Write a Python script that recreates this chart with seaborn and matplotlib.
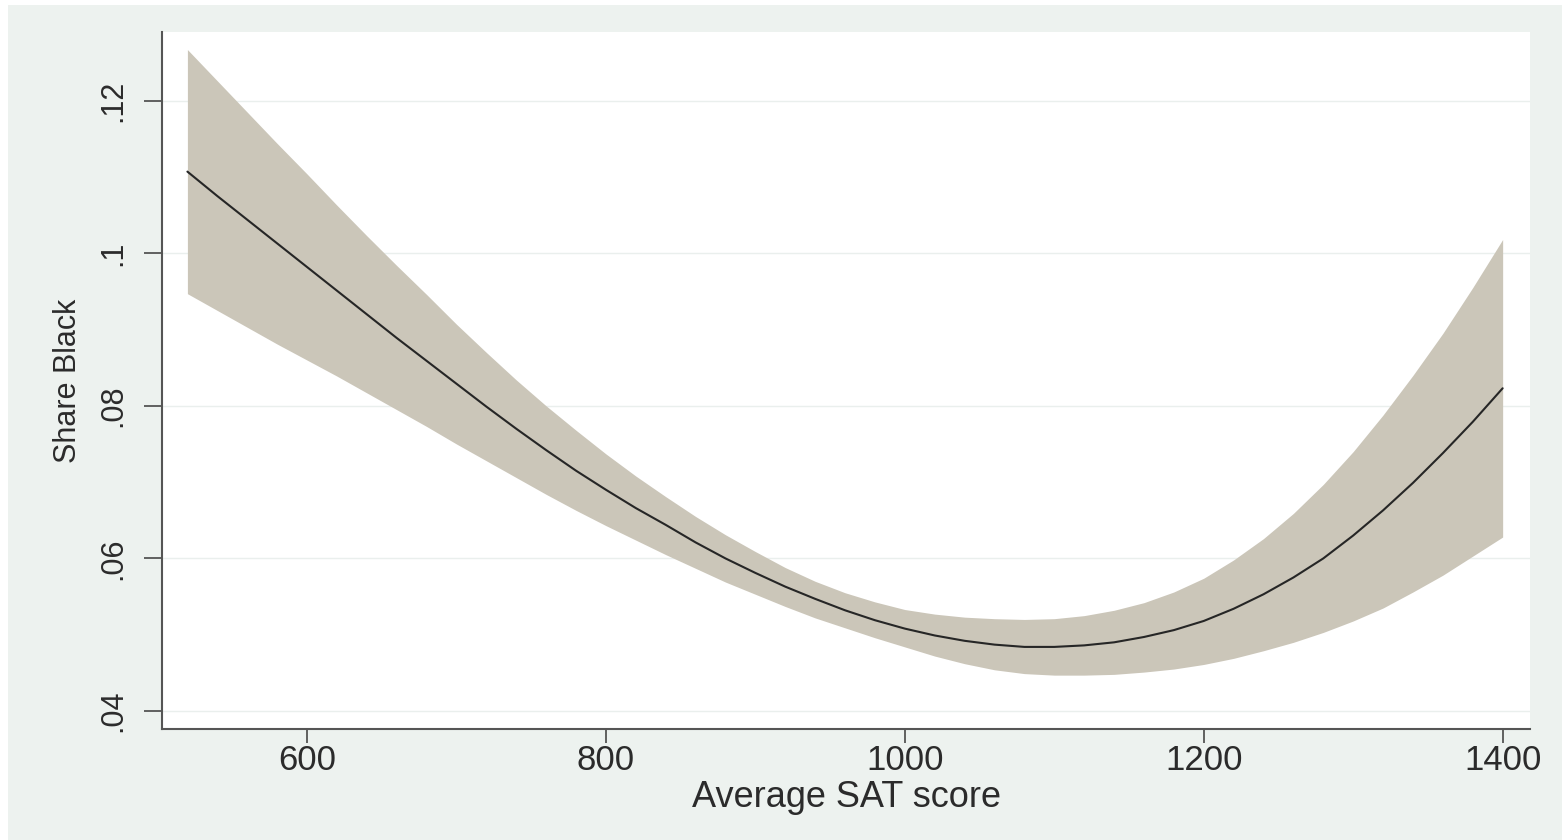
import numpy as np
import pandas as pd
import matplotlib
matplotlib.use("Agg")
import matplotlib.pyplot as plt
from matplotlib.patches import Rectangle
import seaborn as sns

# Average SAT score grid (steps of 20) and fitted share of Black students with 95% band
sat = [520, 540, 560, 580, 600, 620, 640, 660, 680, 700, 720, 740, 760, 780,
       800, 820, 840, 860, 880, 900, 920, 940, 960, 980, 1000, 1020, 1040,
       1060, 1080, 1100, 1120, 1140, 1160, 1180, 1200, 1220, 1240, 1260,
       1280, 1300, 1320, 1340, 1360, 1380, 1400]
fit = [0.1107, 0.1075, 0.1044, 0.1013, 0.0982, 0.0951, 0.0920, 0.0889,
       0.0859, 0.0829, 0.0799, 0.0770, 0.0742, 0.0715, 0.0690, 0.0666,
       0.0644, 0.0621, 0.0600, 0.0581, 0.0563, 0.0547, 0.0532, 0.0519,
       0.0508, 0.0499, 0.0492, 0.0487, 0.0484, 0.0484, 0.0486, 0.0490,
       0.0497, 0.0506, 0.0518, 0.0534, 0.0553, 0.0575, 0.0600, 0.0630,
       0.0663, 0.0699, 0.0738, 0.0779, 0.0823]
upper = [0.1267, 0.1226, 0.1185, 0.1144, 0.1104, 0.1063, 0.1023, 0.0984,
         0.0946, 0.0907, 0.0870, 0.0834, 0.0800, 0.0768, 0.0737, 0.0708,
         0.0681, 0.0655, 0.0631, 0.0609, 0.0588, 0.0570, 0.0555, 0.0543,
         0.0533, 0.0527, 0.0523, 0.0521, 0.0520, 0.0521, 0.0525, 0.0532,
         0.0542, 0.0556, 0.0574, 0.0598, 0.0626, 0.0659, 0.0697, 0.0740,
         0.0788, 0.0840, 0.0895, 0.0955, 0.1018]
lower = [0.0947, 0.0925, 0.0903, 0.0881, 0.0860, 0.0839, 0.0817, 0.0795,
         0.0773, 0.0750, 0.0728, 0.0706, 0.0684, 0.0663, 0.0643, 0.0624,
         0.0605, 0.0587, 0.0569, 0.0553, 0.0537, 0.0522, 0.0509, 0.0496,
         0.0484, 0.0472, 0.0462, 0.0454, 0.0449, 0.0447, 0.0447, 0.0448,
         0.0451, 0.0455, 0.0461, 0.0469, 0.0479, 0.0490, 0.0503, 0.0518,
         0.0535, 0.0556, 0.0578, 0.0603, 0.0628]

x_ticks = [600, 800, 1000, 1200, 1400]
y_ticks = [0.04, 0.06, 0.08, 0.10, 0.12]
y_tick_labels = [".04", ".06", ".08", ".1", ".12"]

df = pd.DataFrame({"sat": sat, "fit": fit, "lo": lower, "hi": upper})

sns.set_theme(style="white")
plt.rcParams["font.family"] = ["Liberation Sans", "DejaVu Sans"]

BG = "#EDF2EF"
TEXT = "#2b2b2b"
AXIS = "#555555"

fig = plt.figure(figsize=(15.62, 8.40), dpi=100, facecolor="white")
backdrop = Rectangle((8 / 1562, 0), 1, 835 / 840, transform=fig.transFigure,
                     facecolor=BG, edgecolor="none", zorder=-10)
fig.add_artist(backdrop)

ax = fig.add_axes([162 / 1562, (840 - 729) / 840, (1530 - 162) / 1562, (729 - 32) / 840])
ax.set_zorder(1)
ax.set_facecolor("white")

ax.fill_between(df["sat"], df["lo"], df["hi"], color="#CBC6B9", linewidth=0, zorder=2)
sns.lineplot(data=df, x="sat", y="fit", ax=ax, color="#262626", linewidth=1.5, zorder=3)

ax.set_xlim(503, 1418.3)
ax.set_ylim(0.03764, 0.129)

ax.set_xticks(x_ticks)
ax.set_xticklabels([str(v) for v in x_ticks])
ax.set_yticks(y_ticks)
ax.set_yticklabels(y_tick_labels, rotation=90, va="center")

ax.grid(axis="y", color="#EAEFED", linewidth=1.0, zorder=1)
ax.grid(axis="x", visible=False)
ax.set_axisbelow(True)

for side in ["top", "right"]:
    ax.spines[side].set_visible(False)
for side in ["left", "bottom"]:
    ax.spines[side].set_color(AXIS)
    ax.spines[side].set_linewidth(1.5)

ax.tick_params(axis="x", direction="out", length=10, width=1.3, color=AXIS,
               labelsize=25, labelcolor=TEXT, pad=1, bottom=True)
ax.tick_params(axis="y", direction="out", length=13, width=1.3, color=AXIS,
               labelsize=22, labelcolor=TEXT, pad=11, left=True)

ax.set_xlabel("Average SAT score", fontsize=26, color=TEXT, labelpad=2)
ax.set_ylabel("Share Black", fontsize=22, color=TEXT, labelpad=11)

fig.savefig("out.png", dpi=100, facecolor=fig.get_facecolor())
